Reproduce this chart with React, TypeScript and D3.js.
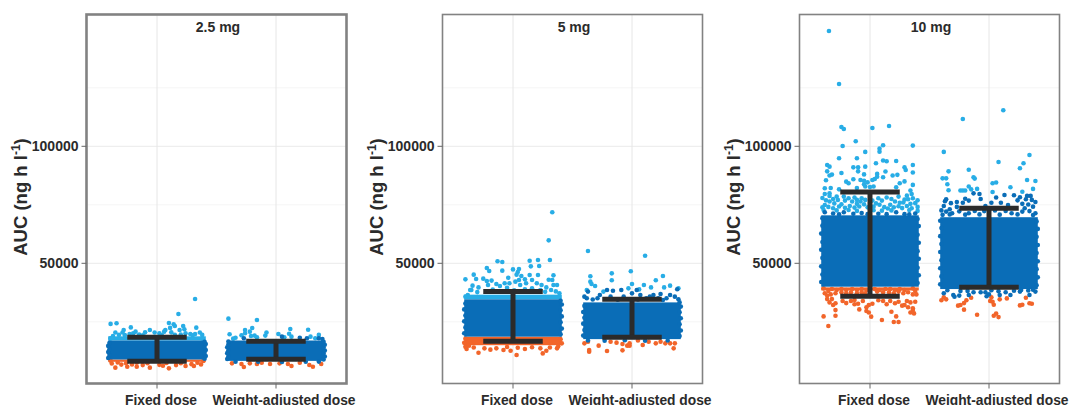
import React from "react";
import * as d3 from "d3";

type P = [number, number];

const doses = ["2.5 mg", "5 mg", "10 mg"];
const categories = ["Fixed dose", "Weight-adjusted dose"];
const yTicks = [50000, 100000];
const yMinor = [25000, 75000, 125000];

// Dense parts of each cloud, where single points cannot be read: [low AUC, high AUC]
const denseBands25 = [
  { light: [17000, 18800], mid: [8900, 17000], low: [7900, 8900] },
  { light: [17200, 17200], mid: [8300, 17000], low: [8300, 8300] },
];
const denseBands5 = [
  { light: [34600, 36600], mid: [18650, 34600], low: [15000, 18650] },
  { light: [33600, 33600], mid: [17600, 33300], low: [17600, 17600] },
];
const denseBands10 = [
  { light: [71000, 71000], mid: [40000, 70500], low: [38400, 39700] },
  { light: [69700, 69700], mid: [39000, 69700], low: [38600, 38600] },
];

// Error bars [low, high]
const bars25: P[] = [[8100, 18400], [8950, 16650]];
const bars5: P[] = [[16650, 38000], [18400, 34600]];
const bars10: P[] = [[35900, 80500], [39750, 73500]];

// Individual points: [horizontal jitter, AUC]
const light25Fixed: P[] = [[.32,34750],[.18,28340],[-.39,24100],[-.34,24350],[.10,24500],[.14,23900],[.15,23200],[-.22,22600],[.22,23200],[.33,22500],[.11,22400],[.19,21500],[.23,21800],[-.28,21500],[-.29,20400],[.07,21500],[-.06,21500],[-.10,20500],[-.20,20100],[-.18,20800],[.06,20800],[.12,20500],[-.35,20400],[-.32,19400],[-.37,18900],[-.39,17900],[-.02,20400],[.02,20100],[-.23,19800],[-.15,19600],[.24,20100],[.28,19800],[.36,20400],[.38,19400],[.32,19800],[.38,17900],[-.27,19300],[-.12,19200],[.04,19300],[.15,19400],[.20,19500],[.30,19200]];
const mid25Fixed: P[] = [[-.41,9500],[-.40,10800],[-.41,12100],[-.40,13300],[-.41,14700],[-.40,15900],[.40,9200],[.41,10400],[.40,11700],[.41,12900],[.40,14200],[.41,15500],[.40,16500]];
const low25Fixed: P[] = [[-.35,5400],[.10,5100],[-.25,5800],[-.17,5800],[-.06,5400],[.31,6100],[.24,6100],[-.38,7200],[-.30,6700],[-.12,6500],[.02,6600],[.16,6500],[.37,6800],[-.21,6800],[.05,6200],[.29,6900],[-.39,8400],[.39,8300],[-.33,7600],[-.26,7300],[-.17,7500],[-.08,7300],[.08,7400],[.20,7300],[.34,7500]];
const light25Weight: P[] = [[-.40,26350],[-.16,25800],[-.20,22350],[-.26,21500],[.12,21900],[.27,21600],[-.39,19650],[-.34,18200],[-.29,19200],[-.26,20100],[-.22,20800],[-.21,18900],[-.18,19100],[-.09,19100],[-.08,20400],[.02,19800],[.11,19900],[.13,18650],[.29,18650],[.36,19400],[.33,17950],[-.36,17800],[.07,18400],[-.16,18400]];
const mid25Weight: P[] = [[.39,17650],[.36,17950],[.20,18200],[-.27,17950],[.05,18650],[.26,17950],[-.41,9100],[-.40,10300],[-.41,11600],[-.40,12800],[-.41,14100],[-.40,15300],[-.40,16600],[.40,8900],[.41,10200],[.40,11500],[.41,12700],[.40,14000],[.41,15200],[.40,16400],[-.34,7900],[-.15,7900],[.05,7800],[.25,7900],[.36,8000]];
const low25Weight: P[] = [[-.37,7250],[-.29,6950],[-.27,5700],[-.16,6950],[-.05,6950],[.10,6950],[.13,6100],[.28,6550],[.31,5800],[.38,6950],[-.12,7500],[.20,7500],[-.22,7250],[.03,7250]];

const light5Fixed: P[] = [[.33,71800],[.30,59800],[-.40,43150],[-.13,50850],[-.09,50550],[.14,51100],[.21,51400],[.31,51400],[-.22,48000],[-.20,46700],[-.09,46850],[0,47400],[.05,47550],[.04,46300],[.15,48700],[.22,48850],[-.33,45150],[-.31,43300],[-.25,43450],[-.22,42450],[-.18,42600],[-.04,43850],[.03,45150],[.07,44600],[.10,43150],[.14,45000],[.16,42850],[.21,45000],[.30,43000],[.34,44850],[.33,42850],[.05,42850],[.02,42150],[-.34,40450],[-.14,41150],[-.07,41450],[-.03,41450],[.11,41450],[.20,41450],[.24,40750],[.34,40750],[.37,40750],[-.35,38600],[-.29,39700],[-.38,36450],[-.21,40700],[-.11,40300],[.06,40700],[.16,39300],[.28,39700],[.39,37150],[-.40,35750],[.23,38600],[.32,38600],[-.36,38600],[-.05,39500],[.10,38900],[-.17,38800],[.01,38500],[.27,37800],[.36,38000],[-.30,37700]];
const mid5Fixed: P[] = [[-.41,20100],[-.40,22600],[-.41,25200],[-.40,27700],[-.41,30300],[-.40,32800],[.40,19700],[.41,22100],[.40,24800],[.41,27300],[.40,29900],[.41,32400],[.40,34000]];
const low5Fixed: P[] = [[-.29,11800],[-.19,13100],[-.08,12950],[-.02,12650],[.03,10800],[.10,13400],[.25,11500],[.28,12650],[.37,13650],[-.39,13400],[-.14,13650],[-.24,13650],[.23,13650],[-.33,14000],[.04,13900],[.16,14100],[.31,14000],[-.05,14200],[-.40,14300],[-.41,16000],[.41,15800],[.40,17500],[-.40,17800],[.38,14600],[-.37,14800]];
const light5Weight: P[] = [[-.37,55250],[.11,53250],[-.35,44450],[-.17,45700],[-.01,46600],[-.17,42750],[.26,44550],[.20,42750],[-.35,42150],[-.34,41150],[-.31,40300],[0,41150],[.32,40450],[.10,40700],[-.03,39300],[.06,38850],[.16,39700],[.27,39700],[.39,39300],[-.38,38600],[-.24,37900]];
const mid5Weight: P[] = [[-.37,37900],[-.27,36450],[-.21,38600],[-.16,38300],[-.09,38600],[0,37150],[.07,36450],[.18,36450],[.24,36900],[.32,36450],[.38,38900],[-.38,35050],[-.29,35050],[-.18,35750],[-.07,35750],[.12,35050],[.29,35050],[.36,35750],[-.40,35750],[.04,38600],[.15,35750],[.22,35050],[-.33,34500],[-.12,34400],[.05,34500],[.26,34300],[.39,34600],[-.41,19100],[-.40,21500],[-.41,24200],[-.40,26700],[-.41,29200],[-.40,31800],[.40,18900],[.41,21300],[.40,23900],[.41,26500],[.40,29100],[.41,31500],[.40,33300],[-.37,17000],[-.23,16900],[-.06,17100],[.11,16900],[.30,17000]];
const low5Weight: P[] = [[-.40,15800],[-.36,12950],[-.36,12250],[-.28,14800],[-.21,12500],[-.08,12800],[-.04,14800],[-.02,14800],[.09,15100],[.20,15800],[.28,15800],[.35,13650],[.32,15800],[-.18,16500],[-.13,16100],[-.08,15500],[-.02,15800],[.05,17000],[.14,16500],[.24,16500],[.36,15800],[-.37,16500]];

const light10Fixed: P[] = [[-.345,149300],[-.26,126600],[-.24,108250],[-.22,107400],[.02,107800],[.16,108700],[-.23,100160],[-.12,102150],[.36,100300],[.11,100450],[-.04,97600],[.08,99000],[.08,97700],[-.26,94900],[-.11,94900],[.11,93900],[.14,93600],[.22,93750],[.05,92750],[-.36,92000],[-.34,91300],[-.14,91000],[-.10,91000],[-.04,91300],[.29,91000],[.36,92000],[.30,89900],[-.36,89300],[-.24,88600],[-.10,89300],[.13,89200],[.36,88800],[-.32,87900],[-.34,87500],[-.05,88000],[.06,88200],[.19,87500],[.23,87800],[.06,87000],[.11,86800],[-.37,85500],[-.20,84900],[-.18,84200],[-.14,85900],[-.08,85600],[-.05,85300],[.02,85600],[.04,86000],[.29,85000],[.25,84200],[-.02,84600],[-.05,83800],[.36,83500],[-.04,82800],[0,82600],[.03,82800],[-.11,82200],[.22,82500],[-.38,82100],[-.33,82200],[-.26,81600],[.34,81100],[-.38,79600],[-.34,79900],[.35,79600],[-.40,77900],[-.34,78800],[-.28,78500],[-.22,78500],[-.18,77800],[-.13,78100],[-.07,77800],[-.04,77100],[.07,77800],[.14,78100],[.24,78500],[.31,78900],[.36,77800],[.32,77400],[-.34,76400],[-.27,77100],[-.21,76800],[-.15,76400],[-.08,76400],[.10,76800],[.21,76400],[.25,75900],[.38,75700],[-.38,74900],[-.30,75600],[-.24,75200],[-.11,75400],[.05,75600],[.17,75000],[.28,76000],[.34,75400],[-.40,73900],[-.35,74100],[-.31,73500],[-.26,74300],[-.21,73700],[-.17,74500],[-.13,73800],[-.09,74300],[-.05,75200],[-.02,73900],[.03,74200],[.08,75000],[.12,74000],[.15,73400],[.20,73900],[.24,74400],[.27,73600],[.31,74500],[.35,73500],[.40,74100],[-.37,76900],[-.31,77500],[-.11,77100],[.02,76800],[.18,77500],[.29,77200],[.40,76900],[-.39,72800],[-.28,72600],[-.18,72800],[-.11,72400],[.03,72700],[.10,72500],[.18,72600],[.33,72800],[.40,72400]];
const mid10Fixed: P[] = [[-.38,71800],[-.31,71300],[-.22,71800],[-.14,71200],[-.07,71500],[.07,71200],[.14,71000],[.22,71800],[.29,71000],[.38,71300],[-.40,69300],[-.02,71000],[-.26,70900],[.33,70900],[-.41,42000],[-.40,45200],[-.41,48700],[-.40,52300],[-.41,55800],[-.40,59100],[-.41,62700],[-.40,66100],[.40,41600],[.41,44900],[.40,48100],[.41,51900],[.40,55200],[.41,58800],[.40,62200],[.41,65900],[.40,68900]];
const low10Fixed: P[] = [[-.39,39300],[-.38,37200],[-.36,34700],[-.34,33300],[-.31,32200],[-.29,32900],[-.35,38200],[-.32,39000],[-.28,38600],[-.24,39000],[-.20,38600],[-.15,39000],[-.11,38600],[-.07,39000],[-.03,38600],[.04,39000],[.08,38600],[.13,39000],[.17,39000],[.21,38600],[.25,39000],[.29,38600],[.36,39300],[.38,38200],[.39,36700],[-.36,36200],[-.33,36700],[-.29,37200],[-.24,37600],[-.20,37200],[-.16,37600],[-.11,37200],[-.07,37600],[-.04,37200],[.06,37900],[.11,37600],[.16,37600],[.20,37200],[.24,37900],[.28,37200],[.32,37600],[.36,36700],[-.20,33000],[-.16,33900],[-.13,32500],[-.10,32700],[-.06,33900],[-.01,32200],[.02,32700],[-.03,31200],[-.09,30300],[-.03,29600],[-.01,29000],[.01,27200],[-.29,30000],[-.39,27300],[-.29,27600],[-.35,23200],[.10,25800],[.18,29300],[.22,27300],[.20,24900],[.24,24900],[.32,31200],[.36,30800],[.34,29000],[.37,28600],[.36,30000],[.11,33900],[.14,32500],[.17,33900],[.21,32900],[.27,31900],[.29,32200],[.34,33300],[.38,33600],[.31,33900],[.24,33600],[.07,34200],[-.13,34300],[-.23,33900],[-.32,34700]];
const light10Weight: P[] = [[-.22,111650],[.12,115400],[-.38,97600],[.08,93300],[.34,96300],[.29,92750],[.26,90600],[-.17,90000],[-.34,89300],[-.13,86800],[-.12,86200],[-.39,86300],[-.36,86300],[.32,85600],[.39,85200],[-.35,83800],[.03,84200],[.06,84500],[.18,82500],[-.17,82800],[-.15,81600],[-.10,81800],[-.34,81200],[-.24,81100],[-.22,81100],[-.20,81100],[.03,80500],[.28,80600],[.37,81800]];
const mid10Weight: P[] = [[-.13,79900],[-.08,79600],[-.07,77500],[.13,79200],[.06,78100],[.21,79100],[.26,78200],[.24,76900],[.32,78800],[.35,78800],[.31,77400],[.36,77100],[.39,76200],[-.36,77400],[-.37,76500],[-.32,75700],[-.27,76200],[-.20,77600],[-.17,76800],[-.22,75900],[-.38,74500],[.02,75900],[.10,75900],[.16,74900],[.28,75400],[-.27,74100],[.33,75100],[.37,74200],[-.33,73100],[-.03,74500],[-.36,72100],[.39,71400],[.30,73500],[-.39,70700],[.28,72100],[.19,71400],[-.17,71400],[-.31,71400],[-.38,37200],[-.30,36450],[-.25,36200],[-.29,35700],[-.17,36450],[-.13,37600],[-.07,37600],[-.03,37600],[-.02,35900],[0,36700],[.09,36450],[.14,37600],[.18,36450],[.26,37900],[.34,36450],[.39,37900],[.27,38600],[-.18,38200],[-.40,72600],[-.33,70900],[-.25,72200],[-.20,70800],[-.12,72400],[-.08,70900],[-.04,72300],[.05,72600],[.09,70800],[.14,72400],[.24,70900],[.34,72300],[.37,70600],[-.41,41000],[-.40,44400],[-.41,47900],[-.40,51300],[-.41,54800],[-.40,58200],[-.41,61600],[-.40,65100],[-.41,68200],[.40,40600],[.41,44000],[.40,47500],[.41,50900],[.40,54400],[.41,57800],[.40,61300],[.41,64700],[.40,67900],[-.35,38500],[-.24,38200],[.02,38500],[.08,38100],[.21,38300],[.33,38400],[.37,38700]];
const low10Weight: P[] = [[-.38,35450],[-.40,34200],[-.36,34600],[-.15,35300],[-.19,34200],[-.21,33000],[-.24,32200],[-.26,31900],[-.21,30200],[-.10,28000],[.02,35450],[.01,33900],[.03,33600],[.04,32300],[.09,34600],[.15,35000],[.31,35300],[.26,32000],[.28,32300],[.34,32900],[.36,32700],[.06,28500],[.04,27600],[.08,27000]];

const panelLeft = [86.5, 442.5, 799.5];
const frameWidth = [2.6, 1.6, 1.6];
const plotWidth = 260;
const top = 14.5;
const bottom = 383.5;
const blue = "#0a6db7";
const sky = "#28ade6";
const orange = "#f2652a";
const ink = "#2b2b2b";
const font = "'Liberation Sans', Arial, sans-serif";
const categoryLabelShift = [4, 8];

const panels = [
  { bands: denseBands25, bars: bars25, light: [light25Fixed, light25Weight], mid: [mid25Fixed, mid25Weight], low: [low25Fixed, low25Weight] },
  { bands: denseBands5, bars: bars5, light: [light5Fixed, light5Weight], mid: [mid5Fixed, mid5Weight], low: [low5Fixed, low5Weight] },
  { bands: denseBands10, bars: bars10, light: [light10Fixed, light10Weight], mid: [mid10Fixed, mid10Weight], low: [low10Fixed, low10Weight] },
];

const y = d3.scaleLinear().domain([0, 157000]).range([380.3, 380.3 - 157000 * 0.00234]);

function Panel({ index }: { index: number }) {
  const p = panels[index];
  const left = panelLeft[index];
  // category 0 and 1 are 119px apart; jitter is in these same units
  const x = d3.scaleLinear().domain([0, 1]).range([left + 70.5, left + 189.5]);
  const band = (cat: number, b: number[], fill: string, key: string) =>
    b[1] > b[0] ? (
      <rect key={key} x={x(cat - 0.41)} width={x(0.82) - x(0)} y={y(b[1])} height={y(b[0]) - y(b[1])} fill={fill} />
    ) : null;
  const dots = (cat: number, pts: P[], fill: string, key: string) =>
    pts.map((d, i) => <circle key={key + i} cx={x(cat + d[0])} cy={y(d[1])} r={2.3} fill={fill} />);
  const cap = x(0.25) - x(0);
  const title = doses[index];
  const cx = left + plotWidth / 2 + 1.5;
  const labelY = 197;
  return (
    <g>
      {yMinor.map((t) => (
        <line key={t} x1={left} x2={left + plotWidth} y1={y(t)} y2={y(t)} stroke="#f6f6f6" strokeWidth={1} />
      ))}
      {yTicks.map((t) => (
        <line key={t} x1={left} x2={left + plotWidth} y1={y(t)} y2={y(t)} stroke="#eaeaea" strokeWidth={1} />
      ))}
      {categories.map((c, i) => (
        <line key={c} x1={x(i)} x2={x(i)} y1={top} y2={bottom} stroke="#e6e6e6" strokeWidth={1} />
      ))}
      {categories.map((c, i) => (
        <g key={c}>
          {dots(i, p.light[i], sky, "l")}
          {band(i, p.bands[i].light, sky, "bl")}
          {band(i, p.bands[i].low, orange, "bo")}
          {dots(i, p.low[i], orange, "o")}
          {band(i, p.bands[i].mid, blue, "bm")}
          {dots(i, p.mid[i], blue, "m")}
        </g>
      ))}
      {p.bars.map((b, i) => (
        <g key={i} stroke={ink} fill="none">
          <line x1={x(i)} x2={x(i)} y1={y(b[0])} y2={y(b[1])} strokeWidth={5} />
          <line x1={x(i) - cap} x2={x(i) + cap} y1={y(b[0])} y2={y(b[0])} strokeWidth={5} />
          <line x1={x(i) - cap} x2={x(i) + cap} y1={y(b[1])} y2={y(b[1])} strokeWidth={5} />
        </g>
      ))}
      <rect x={left} y={top} width={plotWidth} height={bottom - top} fill="none" stroke="#828282" strokeWidth={frameWidth[index]} />
      {yTicks.map((t) => (
        <g key={t}>
          <line x1={left - 5} x2={left} y1={y(t)} y2={y(t)} stroke="#666" strokeWidth={1} />
          <text x={left - 8} y={y(t) + 5} textAnchor="end" fontSize={14} fontWeight={700} fill={ink} fontFamily={font}>{t}</text>
        </g>
      ))}
      {categories.map((c, i) => (
        <g key={c}>
          <line x1={x(i)} x2={x(i)} y1={bottom} y2={bottom + 5} stroke="#666" strokeWidth={1} />
          <text x={x(i) + categoryLabelShift[i]} y={404.5} textAnchor="middle" fontSize={13.8} fontWeight={700} fill={ink} fontFamily={font}>{c}</text>
        </g>
      ))}
      <text x={cx} y={32} textAnchor="middle" fontSize={14} fontWeight={700} fill={ink} fontFamily={font}>{title}</text>
      <text transform={`translate(${left - 60},${labelY}) rotate(-90)`} textAnchor="middle" fontSize={18.5} fontWeight={700} fill={ink} fontFamily={font}>
        AUC (ng h l<tspan dy={-7} fontSize={12}>-1</tspan><tspan dy={7}>)</tspan>
      </text>
    </g>
  );
}

export default function App() {
  return (
    <svg width={1069} height={405} style={{ position: "absolute", left: 0, top: 0, background: "#fff" }}>
      {panels.map((_, i) => <Panel key={i} index={i} />)}
    </svg>
  );
}
